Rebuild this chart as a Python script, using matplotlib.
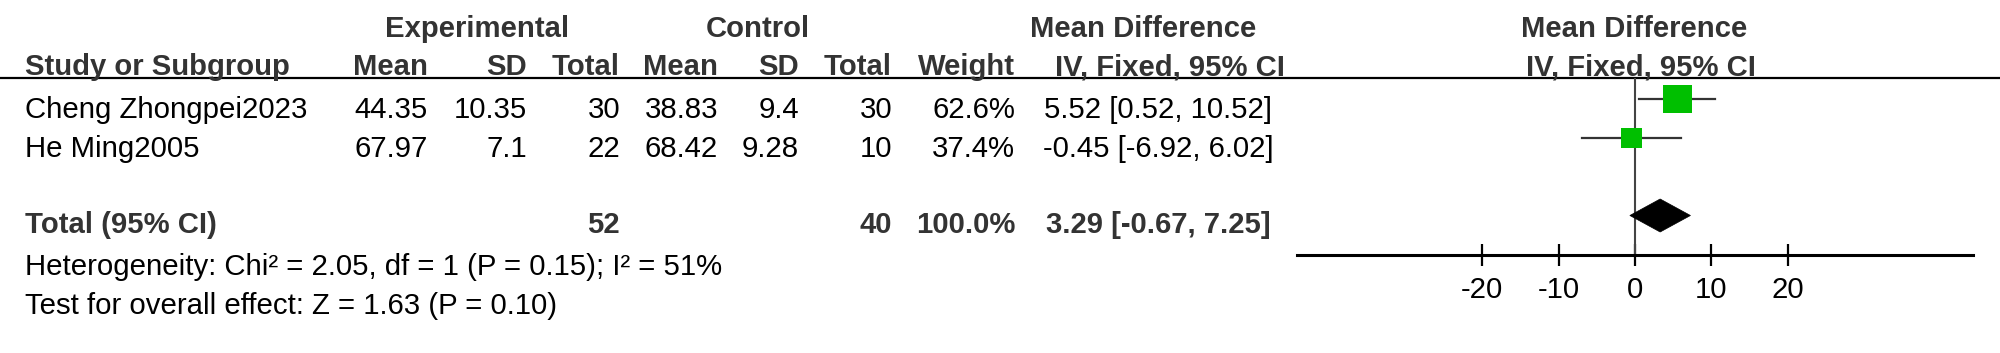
import matplotlib
matplotlib.use('Agg')
import matplotlib.pyplot as plt
from matplotlib.patches import Rectangle, Polygon

# 数据
studies = ['Cheng Zhongpei2023', 'He Ming2005']
exp_mean = ['44.35', '67.97']
exp_sd = ['10.35', '7.1']
exp_n = [30, 22]
ctl_mean = ['38.83', '68.42']
ctl_sd = ['9.4', '9.28']
ctl_n = [30, 10]
weights = [62.6, 37.4]
md = [5.52, -0.45]
md_lo = [0.52, -6.92]
md_hi = [10.52, 6.02]

total_md = 3.29
total_lo = -0.67
total_hi = 7.25
total_exp_n = 52
total_ctl_n = 40
heterogeneity = 'Heterogeneity: Chi² = 2.05, df = 1 (P = 0.15); I² = 51%'
overall = 'Test for overall effect: Z = 1.63 (P = 0.10)'
xticks = [-20, -10, 0, 10, 20]

plt.rcParams['font.family'] = ['Liberation Sans', 'DejaVu Sans']

W, H = 2000, 353
fig = plt.figure(figsize=(W / 100, H / 100), dpi=100)
tab = fig.add_axes([0, 0, 1, 1])
tab.set_xlim(0, W)
tab.set_ylim(H, 0)
tab.axis('off')
renderer = fig.canvas.get_renderer()


def fit_size(s, target_px, weight):
    t = tab.text(0, 0, s, fontsize=20, fontweight=weight)
    w = t.get_window_extent(renderer).width
    t.remove()
    return 20 * target_px / w


fs = fit_size('Cheng Zhongpei2023', 282, 'normal')
fsb = fit_size('Study or Subgroup', 265, 'bold')

hdr = '#333333'
hb = dict(fontsize=fsb, fontweight='bold', color=hdr)
tx = dict(fontsize=fs, color='black')

# 表头
tab.text(477, 37, 'Experimental', ha='center', va='baseline', **hb)
tab.text(758, 37, 'Control', ha='center', va='baseline', **hb)
tab.text(1143, 37, 'Mean Difference', ha='center', va='baseline', **hb)
tab.text(1634, 37, 'Mean Difference', ha='center', va='baseline', **hb)

col_right = [428, 527, 620, 718, 799, 892, 1015]
heads = ['Mean', 'SD', 'Total', 'Mean', 'SD', 'Total', 'Weight']
tab.text(25, 75, 'Study or Subgroup', ha='left', va='baseline', **hb)
for x, h in zip(col_right, heads):
    tab.text(x, 75, h, ha='right', va='baseline', **hb)
tab.text(1170, 75, 'IV, Fixed, 95% CI', ha='center', va='baseline', **hb)
tab.text(1641, 75, 'IV, Fixed, 95% CI', ha='center', va='baseline', **hb)
tab.plot([0, W], [78, 78], color='black', lw=1.6, solid_capstyle='butt')

row_base = [118, 157]
for i, name in enumerate(studies):
    y = row_base[i]
    tab.text(25, y, name, ha='left', va='baseline', **tx)
    vals = [exp_mean[i], exp_sd[i], str(exp_n[i]), ctl_mean[i], ctl_sd[i],
            str(ctl_n[i]), f'{weights[i]:.1f}%']
    for x, v in zip(col_right, vals):
        tab.text(x, y, v, ha='right', va='baseline', **tx)
    tab.text(1158, y, f'{md[i]:.2f} [{md_lo[i]:.2f}, {md_hi[i]:.2f}]',
             ha='center', va='baseline', **tx)

ty = 233
tab.text(25, ty, 'Total (95% CI)', ha='left', va='baseline', **hb)
tab.text(col_right[2], ty, str(total_exp_n), ha='right', va='baseline', **hb)
tab.text(col_right[5], ty, str(total_ctl_n), ha='right', va='baseline', **hb)
tab.text(col_right[6], ty, f'{sum(weights):.1f}%', ha='right', va='baseline', **hb)
tab.text(1158, ty, f'{total_md:.2f} [{total_lo:.2f}, {total_hi:.2f}]',
         ha='center', va='baseline', **hb)
tab.text(25, 275, heterogeneity, ha='left', va='baseline', **tx)
tab.text(25, 314, overall, ha='left', va='baseline', **tx)

# 森林图
x0, x1, ytop, ybot = 1297, 1973, 78, 255
lim = 44.2
ppu = (x1 - x0) / (2 * lim)
fp = fig.add_axes([x0 / W, (H - ybot) / H, (x1 - x0) / W, (ybot - ytop) / H])
fp.set_xlim(-lim, lim)
fp.set_ylim(ybot, ytop)
fp.patch.set_alpha(0)
for s in ['top', 'left', 'right']:
    fp.spines[s].set_visible(False)
fp.spines['bottom'].set_linewidth(2.2)
fp.set_yticks([])
fp.set_xticks(xticks)
fp.set_xticklabels([str(t) for t in xticks], fontsize=fs)
fp.tick_params(axis='x', direction='inout', length=16, width=1.6, pad=7)
fp.axvline(0, color='#444444', lw=1.5)

for i in range(len(studies)):
    yc = row_base[i] - 19
    fp.plot([md_lo[i], md_hi[i]], [yc, yc], color='#333333', lw=1.6, zorder=2)
    side = 1.6 * weights[i] ** 0.7
    fp.add_patch(Rectangle((md[i] - side / ppu / 2, yc - side / 2), side / ppu, side,
                           facecolor='#00bf00', edgecolor='none', zorder=3))

yc = ty - 17.5
fp.add_patch(Polygon([(total_lo, yc), (total_md, yc - 16.5), (total_hi, yc), (total_md, yc + 16.5)],
                     closed=True, facecolor='black', edgecolor='black', lw=0.5, zorder=3))

fig.savefig('out.png', dpi=100)
